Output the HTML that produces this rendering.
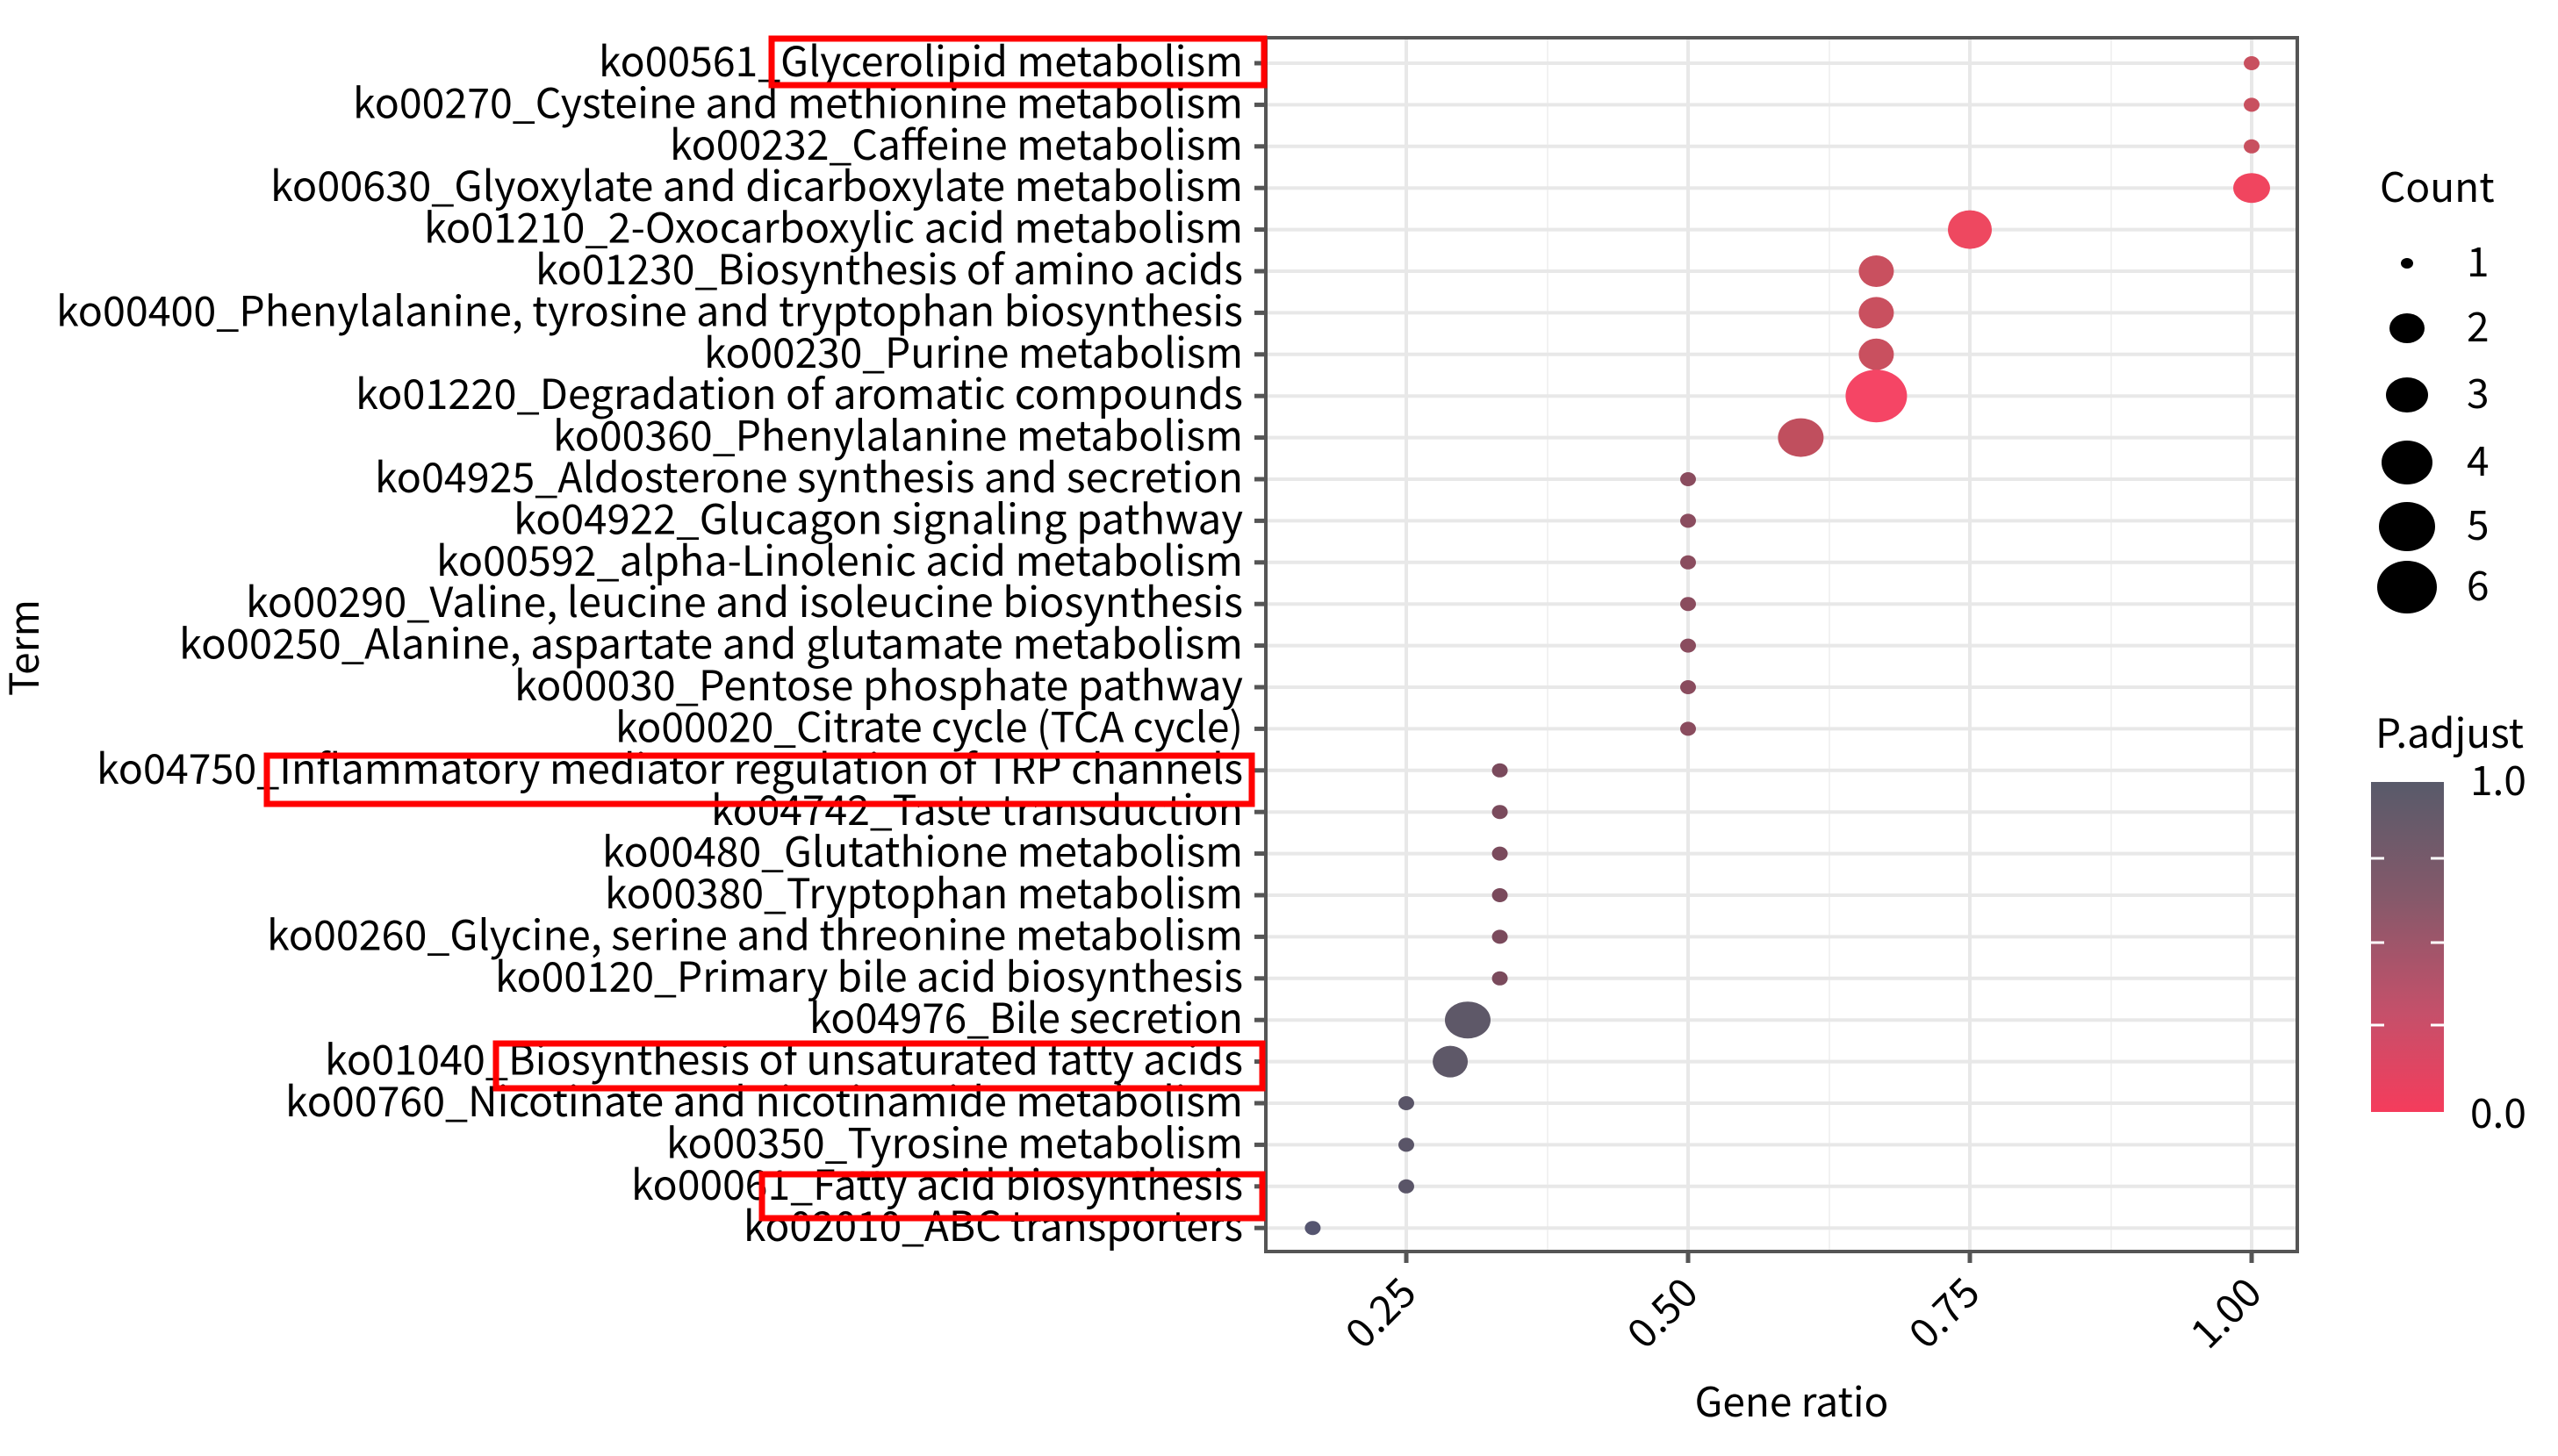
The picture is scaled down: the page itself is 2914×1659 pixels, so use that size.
<!DOCTYPE html>
<html><head><meta charset="utf-8"><style>
html,body{margin:0;padding:0;background:#fff;}
svg{display:block;}
text{font-family:"Noto Sans CJK SC","Liberation Sans",sans-serif;fill:#000;}
</style></head><body>
<svg width="2914" height="1659" viewBox="0 0 2914 1659" xmlns="http://www.w3.org/2000/svg">
<defs>
<linearGradient id="g" x1="0" y1="0" x2="0" y2="1">
<stop offset="0" stop-color="#585a6a"/>
<stop offset="0.35" stop-color="#85596a"/>
<stop offset="0.7" stop-color="#c5506a"/>
<stop offset="1" stop-color="#f53c5c"/>
</linearGradient>
</defs>
<rect x="1442" y="43" width="1175" height="1383" fill="#fff"/>
<g stroke="#f2f2f2" stroke-width="2">
<line x1="1763" y1="43" x2="1763" y2="1426"/>
<line x1="2084" y1="43" x2="2084" y2="1426"/>
<line x1="2405" y1="43" x2="2405" y2="1426"/>
</g>
<g stroke="#e8e8e8" stroke-width="4">
<line x1="1602" y1="43" x2="1602" y2="1426"/>
<line x1="1923" y1="43" x2="1923" y2="1426"/>
<line x1="2244" y1="43" x2="2244" y2="1426"/>
<line x1="2565" y1="43" x2="2565" y2="1426"/>
</g>
<g id="hg" stroke="#e8e8e8" stroke-width="4"></g>
<g id="pts"></g>
<rect x="1442" y="43" width="1175" height="1383" fill="none" stroke="#555" stroke-width="4"/>
<g stroke="#555" stroke-width="5">
<line x1="1602" y1="1426" x2="1602" y2="1439"/>
<line x1="1923" y1="1426" x2="1923" y2="1439"/>
<line x1="2244" y1="1426" x2="2244" y2="1439"/>
<line x1="2565" y1="1426" x2="2565" y2="1439"/>
</g>
<g font-size="46" text-anchor="end">
<text transform="translate(1616,1476) rotate(-45)">0.25</text>
<text transform="translate(1937,1476) rotate(-45)">0.50</text>
<text transform="translate(2258,1476) rotate(-45)">0.75</text>
<text transform="translate(2579,1476) rotate(-45)">1.00</text>
</g>
<g id="yl" font-size="47" text-anchor="end"></g>
<g id="yt" stroke="#555" stroke-width="5"></g>
<text x="2041" y="1614" font-size="46" text-anchor="middle">Gene ratio</text>
<text transform="translate(44,738) rotate(-90)" font-size="46" text-anchor="middle">Term</text>
<g fill="none" stroke="#f00" stroke-width="7">
<rect x="879" y="44" width="561" height="53"/>
<rect x="304" y="861" width="1122" height="55"/>
<rect x="565" y="1189" width="873" height="51"/>
<rect x="868" y="1338" width="570" height="50"/>
</g>
<text x="2711" y="230" font-size="46">Count</text>
<g fill="#000">
<ellipse cx="2742" cy="300" rx="7" ry="6"/>
<ellipse cx="2742" cy="374" rx="20" ry="17"/>
<ellipse cx="2742" cy="450" rx="24" ry="20"/>
<ellipse cx="2742" cy="527" rx="29" ry="25"/>
<ellipse cx="2742" cy="600" rx="32" ry="28"/>
<ellipse cx="2742" cy="669" rx="34" ry="30"/>
</g>
<g font-size="46">
<text x="2810" y="315">1</text>
<text x="2810" y="389">2</text>
<text x="2810" y="465">3</text>
<text x="2810" y="542">4</text>
<text x="2810" y="615">5</text>
<text x="2810" y="684">6</text>
</g>
<text x="2706" y="852" font-size="46">P.adjust</text>
<rect x="2701" y="891" width="83" height="376" fill="url(#g)"/>
<g stroke="#fff" stroke-width="3">
<line x1="2701" y1="978" x2="2716" y2="978"/><line x1="2769" y1="978" x2="2784" y2="978"/>
<line x1="2701" y1="1074" x2="2716" y2="1074"/><line x1="2769" y1="1074" x2="2784" y2="1074"/>
<line x1="2701" y1="1168" x2="2716" y2="1168"/><line x1="2769" y1="1168" x2="2784" y2="1168"/>
</g>
<text x="2814" y="906" font-size="46">1.0</text>
<text x="2814" y="1285" font-size="46">0.0</text>
</svg>
<script>
var labels=[
["ko00561_Glycerolipid metabolism",682],
["ko00270_Cysteine and methionine metabolism",402],
["ko00232_Caffeine metabolism",763],
["ko00630_Glyoxylate and dicarboxylate metabolism",308],
["ko01210_2-Oxocarboxylic acid metabolism",483],
["ko01230_Biosynthesis of amino acids",610],
["ko00400_Phenylalanine, tyrosine and tryptophan biosynthesis",64],
["ko00230_Purine metabolism",802],
["ko01220_Degradation of aromatic compounds",405],
["ko00360_Phenylalanine metabolism",630],
["ko04925_Aldosterone synthesis and secretion",427],
["ko04922_Glucagon signaling pathway",585],
["ko00592_alpha-Linolenic acid metabolism",497],
["ko00290_Valine, leucine and isoleucine biosynthesis",280],
["ko00250_Alanine, aspartate and glutamate metabolism",204],
["ko00030_Pentose phosphate pathway",586],
["ko00020_Citrate cycle (TCA cycle)",701],
["ko04750_Inflammatory mediator regulation of TRP channels",110],
["ko04742_Taste transduction",810],
["ko00480_Glutathione metabolism",686],
["ko00380_Tryptophan metabolism",689],
["ko00260_Glycine, serine and threonine metabolism",304],
["ko00120_Primary bile acid biosynthesis",564],
["ko04976_Bile secretion",922],
["ko01040_Biosynthesis of unsaturated fatty acids",370],
["ko00760_Nicotinate and nicotinamide metabolism",325],
["ko00350_Tyrosine metabolism",759],
["ko00061_Fatty acid biosynthesis",719],
["ko02010_ABC transporters",847]];
var pts=[
[1,9,8,"#c8505f"],[1,9,8,"#c8505f"],[1,9,8,"#c8505f"],[1,21,17,"#f0455f"],
[0.75,25,22,"#ee4860"],[0.667,20,18,"#c9505f"],[0.667,20,18,"#c9505f"],[0.667,20,18,"#c9505f"],
[0.667,35,30,"#f54565"],[0.6,26,22,"#c04f5e"]];
for(var i=0;i<7;i++)pts.push([0.5,9,8,"#8a4c5e"]);
for(var i=0;i<6;i++)pts.push([0.333,9,8,"#7a4a5c"]);
pts.push([0.3045,26,21,"#5e5868"],[0.289,20,18,"#5e5868"]);
for(var i=0;i<3;i++)pts.push([0.25,9,8,"#5a5568"]);
pts.push([0.167,9,8,"#555570"]);
var NS="http://www.w3.org/2000/svg";
function el(t,a,p){var e=document.createElementNS(NS,t);for(var k in a)e.setAttribute(k,a[k]);document.getElementById(p).appendChild(e);return e;}
for(var i=0;i<29;i++){
 var y=72+47.4*i;
 el("line",{x1:1442,x2:2617,y1:y,y2:y},"hg");
 el("line",{x1:1429,x2:1442,y1:y,y2:y},"yt");
 var t=el("text",{x:1416,y:y+15,textLength:1416-labels[i][1],lengthAdjust:"spacingAndGlyphs"},"yl");
 t.textContent=labels[i][0];
 var p=pts[i];
 el("ellipse",{cx:1602+(p[0]-0.25)*1284,cy:y,rx:p[1],ry:p[2],fill:p[3]},"pts");
}
</script>
</body></html>
